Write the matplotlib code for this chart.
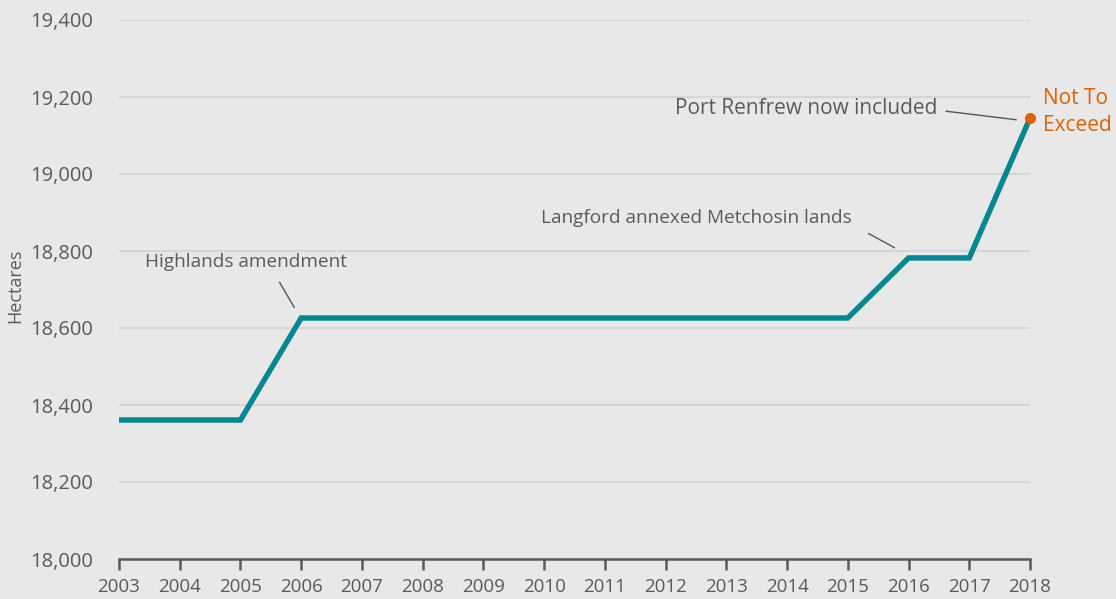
import matplotlib
matplotlib.use("Agg")
import matplotlib.pyplot as plt
from matplotlib.ticker import FuncFormatter

years = [2003, 2004, 2005, 2006, 2007, 2008, 2009, 2010, 2011, 2012, 2013, 2014, 2015, 2016, 2017, 2018]
hectares = [18361, 18361, 18361, 18626, 18626, 18626, 18626, 18626, 18626, 18626, 18626, 18626, 18626, 18782, 18782, 19145]
yticks = [18000, 18200, 18400, 18600, 18800, 19000, 19200, 19400]

BG = "#e8e8e8"
TEAL = "#00878f"
ORANGE = "#dd6200"
TXT = "#5a5a5a"

plt.rcParams['font.family'] = ['Open Sans', 'DejaVu Sans']

fig = plt.figure(figsize=(11.16, 5.99), dpi=100, facecolor=BG)
ax = fig.add_axes([119/1116, 1-559/599, (1030-119)/1116, (559-20)/599])
ax.set_facecolor(BG)

ax.plot(years, hectares, color=TEAL, lw=3.9, solid_joinstyle='miter', zorder=3)
ax.plot(years[-1], hectares[-1], 'o', color=ORANGE, ms=7, zorder=4, clip_on=False)

ax.set_xlim(2003, 2018)
ax.set_ylim(18000, 19400)
ax.set_yticks(yticks)
ax.set_xticks(years)
ax.yaxis.set_major_formatter(FuncFormatter(lambda v, p: f"{int(v):,}"))
ax.grid(axis='y', color='#d6d6d6', lw=1.5)
ax.set_axisbelow(True)
for s in ['left', 'right', 'top']:
    ax.spines[s].set_visible(False)
ax.spines['bottom'].set_color('#5a5a5a')
ax.spines['bottom'].set_linewidth(1.8)
ax.tick_params(axis='y', length=0, pad=19, labelsize=14.5, labelcolor=TXT)
ax.tick_params(axis='x', length=8, width=1.8, color='#5a5a5a', direction='out', pad=6, labelsize=13.5, labelcolor=TXT)
ax.set_ylabel("Hectares", fontsize=13, color=TXT)
ax.yaxis.set_label_coords(-95/911, 0.506)

line_kw = dict(arrowprops=dict(arrowstyle='-', color='#555555', lw=1))
ax.annotate('', xy=(2005.91, 18647), xytext=(2005.62, 18725), **line_kw)
ax.text(2005.09, 18771, "Highlands amendment", ha='center', va='center', fontsize=13.7, color=TXT)
ax.annotate('', xy=(2015.81, 18805), xytext=(2015.30, 18849), **line_kw)
ax.text(2012.50, 18886, "Langford annexed Metchosin lands", ha='center', va='center', fontsize=13.7, color=TXT)
ax.annotate('', xy=(2017.82, 19140), xytext=(2016.57, 19164), **line_kw)
ax.text(2016.47, 19171, "Port Renfrew now included", ha='right', va='center', fontsize=15, color=TXT)
ax.text(2018.21, 19161, "Not To\nExceed", ha='left', va='center', fontsize=15, color=ORANGE, linespacing=1.35, clip_on=False)

fig.savefig("out.png", dpi=100, facecolor=BG)
